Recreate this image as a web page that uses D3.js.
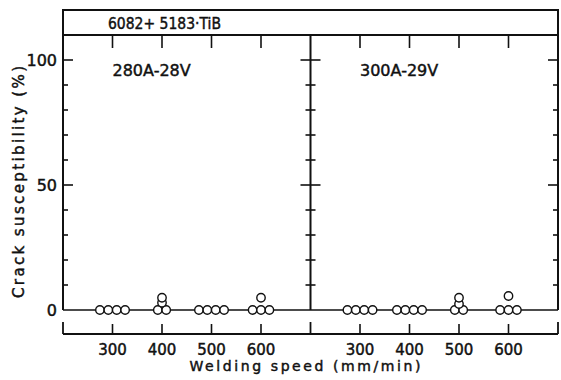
<!DOCTYPE html>
<html>
<head>
<meta charset="utf-8">
<script src="https://cdn.jsdelivr.net/npm/d3@7"></script>
<style>
  body { margin: 0; background: #fff; }
  text { font-family: "DejaVu Sans", sans-serif; fill: #111; stroke: #111; stroke-width: 0.45px; }
</style>
</head>
<body>
<svg id="chart" width="561" height="380"></svg>
<script>
"use strict";

// alloy combination in the header box
const alloyTitle = "6082+ 5183·TiB";
// welding conditions, one panel each
const conditions = ["280A-28V", "300A-29V"];
// welding speeds tested (mm/min)
const speeds = [300, 400, 500, 600];
// crack susceptibility (%) of the four specimens at each speed
const crack280 = [[0, 0, 0, 0], [0, 0, 2.9, 4.9], [0, 0, 0, 0], [0, 0, 0, 4.9]];
const crack300 = [[0, 0, 0, 0], [0, 0, 0, 0], [0, 0, 2.4, 4.9], [0, 0, 0, 5.6]];
// y axis labels and minor ticks
const yLabels = [0, 50, 100];
const yMinor = [10, 20, 30, 40, 60, 70, 80, 90];

const svg = d3.select("#chart");
const ink = "#111";

const frameTop = 10, plotTop = 35, zeroY = 310, axisY = 334;
const edges = [63, 310.5, 558];
const r = 4.2;

const y = d3.scaleLinear().domain([0, 110]).range([zeroY, plotTop]);
const xs = [0, 1].map(i => d3.scaleLinear().domain([200, 700]).range([edges[i], edges[i + 1]]));

const g = svg.append("g").attr("stroke", ink).attr("fill", "none");

// header box and frame
g.append("rect").attr("x", edges[0]).attr("y", frameTop)
  .attr("width", edges[2] - edges[0]).attr("height", plotTop - frameTop).attr("stroke-width", 2);
g.append("line").attr("x1", edges[0]).attr("x2", edges[0]).attr("y1", frameTop).attr("y2", zeroY).attr("stroke-width", 2);
g.append("line").attr("x1", edges[2]).attr("x2", edges[2]).attr("y1", frameTop).attr("y2", zeroY).attr("stroke-width", 2);
g.append("line").attr("x1", edges[1]).attr("x2", edges[1]).attr("y1", plotTop).attr("y2", zeroY).attr("stroke-width", 2);
// zero baseline
g.append("line").attr("x1", edges[0]).attr("x2", edges[2]).attr("y1", zeroY).attr("y2", zeroY).attr("stroke-width", 1.6);

svg.append("text").attr("x", 108).attr("y", 29)
  .attr("font-size", 15).attr("textLength", 113).attr("lengthAdjust", "spacingAndGlyphs")
  .text(alloyTitle);

// y ticks: inward on left and right, both ways on the divider
function yTick(v, len) {
  g.append("line").attr("x1", edges[0]).attr("x2", edges[0] + len).attr("y1", y(v)).attr("y2", y(v)).attr("stroke-width", 1.6);
  g.append("line").attr("x1", edges[2]).attr("x2", edges[2] - len).attr("y1", y(v)).attr("y2", y(v)).attr("stroke-width", 1.6);
  g.append("line").attr("x1", edges[1] - len).attr("x2", edges[1] + len).attr("y1", y(v)).attr("y2", y(v)).attr("stroke-width", 1.6);
}
yLabels.filter(v => v > 0).forEach(v => yTick(v, 10));
yMinor.forEach(v => yTick(v, 5));

svg.selectAll(".ylab").data(yLabels).enter().append("text")
  .attr("class", "ylab").attr("x", 57).attr("y", d => y(d) + 6)
  .attr("text-anchor", "end").attr("font-size", 16).text(d => d);

svg.append("text")
  .attr("transform", "translate(24," + 182 + ") rotate(-90)")
  .attr("text-anchor", "middle").attr("font-size", 15)
  .attr("textLength", 232).attr("lengthAdjust", "spacing")
  .text("Crack susceptibility (%)");

// bottom speed axis
g.append("line").attr("x1", edges[0]).attr("x2", edges[2]).attr("y1", axisY).attr("y2", axisY).attr("stroke-width", 1.8);
edges.forEach(e => {
  g.append("line").attr("x1", e).attr("x2", e).attr("y1", axisY).attr("y2", axisY - 12).attr("stroke-width", 1.8);
});

xs.forEach((x, i) => {
  speeds.forEach(s => {
    // top ticks hanging from the header
    g.append("line").attr("x1", x(s)).attr("x2", x(s)).attr("y1", plotTop).attr("y2", plotTop + 13).attr("stroke-width", 1.6);
    // bottom ticks
    g.append("line").attr("x1", x(s)).attr("x2", x(s)).attr("y1", axisY).attr("y2", axisY - 10).attr("stroke-width", 1.6);
  });
  svg.selectAll(".xlab" + i).data(speeds).enter().append("text")
    .attr("class", "xlab" + i).attr("x", d => x(d)).attr("y", 355)
    .attr("text-anchor", "middle").attr("font-size", 15).text(d => d);

  svg.append("text").attr("x", x(300)).attr("y", 76)
    .attr("font-size", 16).text(conditions[i]);
});

svg.append("text").attr("x", 305).attr("y", 371)
  .attr("text-anchor", "middle").attr("font-size", 14)
  .attr("textLength", 231).attr("lengthAdjust", "spacing")
  .text("Welding speed (mm/min)");

// specimens: zero readings sit side by side on the baseline, others centred
const pts = [];
[crack280, crack300].forEach((set, p) => {
  set.forEach((vals, k) => {
    const zeros = vals.filter(v => v === 0).length;
    let zi = 0;
    vals.forEach(v => {
      const off = v === 0 ? (zi++ - (zeros - 1) / 2) * 2 * r : 0;
      pts.push({ panel: p, speed: speeds[k], value: v, off: off });
    });
  });
});

svg.append("g").selectAll("circle").data(pts).enter().append("circle")
  .attr("cx", d => xs[d.panel](d.speed) + d.off)
  .attr("cy", d => y(d.value))
  .attr("r", r)
  .attr("fill", "#fff").attr("stroke", ink).attr("stroke-width", 1.4);
</script>
</body>
</html>
